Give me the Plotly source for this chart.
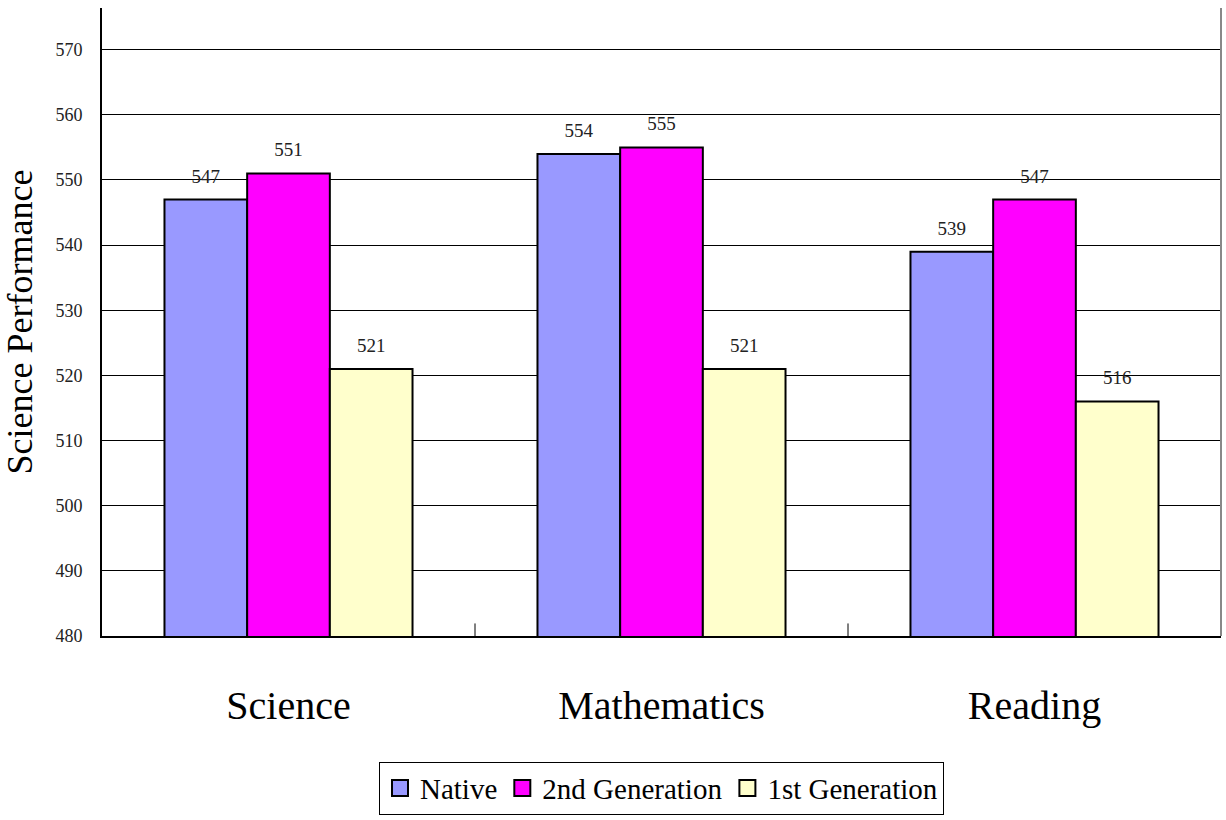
import plotly.graph_objects as go

categories = ["Science", "Mathematics", "Reading"]
series_names = ["Native", "2nd Generation", "1st Generation"]
native = [547, 554, 539]
second_gen = [551, 555, 547]
first_gen = [521, 521, 516]
colors = ["#9999FF", "#FF00FF", "#FFFFCC"]
y_ticks = [480, 490, 500, 510, 520, 530, 540, 550, 560, 570]

FONT = "Liberation Serif"
GAP = 0.335

fig = go.Figure()
all_vals = [native, second_gen, first_gen]
for i, (name, vals, col) in enumerate(zip(series_names, all_vals, colors)):
    fig.add_trace(go.Bar(
        x=categories, y=vals, name=name, showlegend=False,
        offsetgroup=str(i),
        marker=dict(color=col, line=dict(color="black", width=2)),
    ))
# value labels (invisible markers push text above bars)
for i, (name, vals) in enumerate(zip(series_names, all_vals)):
    fig.add_trace(go.Scatter(
        x=categories, y=vals, mode="markers+text", showlegend=False,
        offsetgroup=str(i),
        marker=dict(size=18, opacity=0),
        text=[str(v) for v in vals], textposition="top center",
        textfont=dict(family=FONT, size=19, color="#222"),
        cliponaxis=False, hoverinfo="skip",
    ))
# legend entries
for name, col in zip(series_names, colors):
    fig.add_trace(go.Scatter(
        x=[None], y=[None], mode="markers", name=name,
        marker=dict(symbol="square", size=16, color=col, line=dict(color="black", width=2)),
    ))

# category boundary ticks on the x axis
for b in [0.5, 1.5]:
    fig.add_shape(type="line", xref="x", yref="paper", x0=b, x1=b, y0=0, y1=0.02,
                  line=dict(color="black", width=1))

fig.update_layout(
    width=1226, height=820,
    margin=dict(l=102, r=5, t=8, b=180),
    paper_bgcolor="white", plot_bgcolor="white",
    barmode="group", bargap=GAP, bargroupgap=0,
    scattermode="group", scattergap=GAP,
    font=dict(family=FONT, color="black"),
    showlegend=True,
    legend=dict(orientation="h", x=0.5, xanchor="center", y=-0.2, yanchor="top",
                font=dict(family=FONT, size=29, color="black"),
                bordercolor="black", borderwidth=1, itemwidth=30,
                itemsizing="trace", traceorder="normal"),
)
fig.update_xaxes(
    showline=True, linecolor="black", linewidth=2, mirror=False,
    ticks="", tickfont=dict(family=FONT, size=40, color="black"),
    ticklabelstandoff=33, range=[-0.5, 2.5],
)
fig.update_yaxes(
    range=[480, 576.4], tickvals=y_ticks,
    showgrid=True, gridcolor="black", gridwidth=1,
    showline=True, linecolor="black", linewidth=2,
    ticks="", ticklabelstandoff=14,
    tickfont=dict(family=FONT, size=18, color="#222"),
    title=dict(text="Science Performance", font=dict(family=FONT, size=36, color="black"), standoff=12),
    zeroline=False,
)
# right border line
fig.add_shape(type="line", xref="paper", yref="paper", x0=1, x1=1, y0=0, y1=1,
              line=dict(color="#888", width=2))

fig.write_html("out.html")
